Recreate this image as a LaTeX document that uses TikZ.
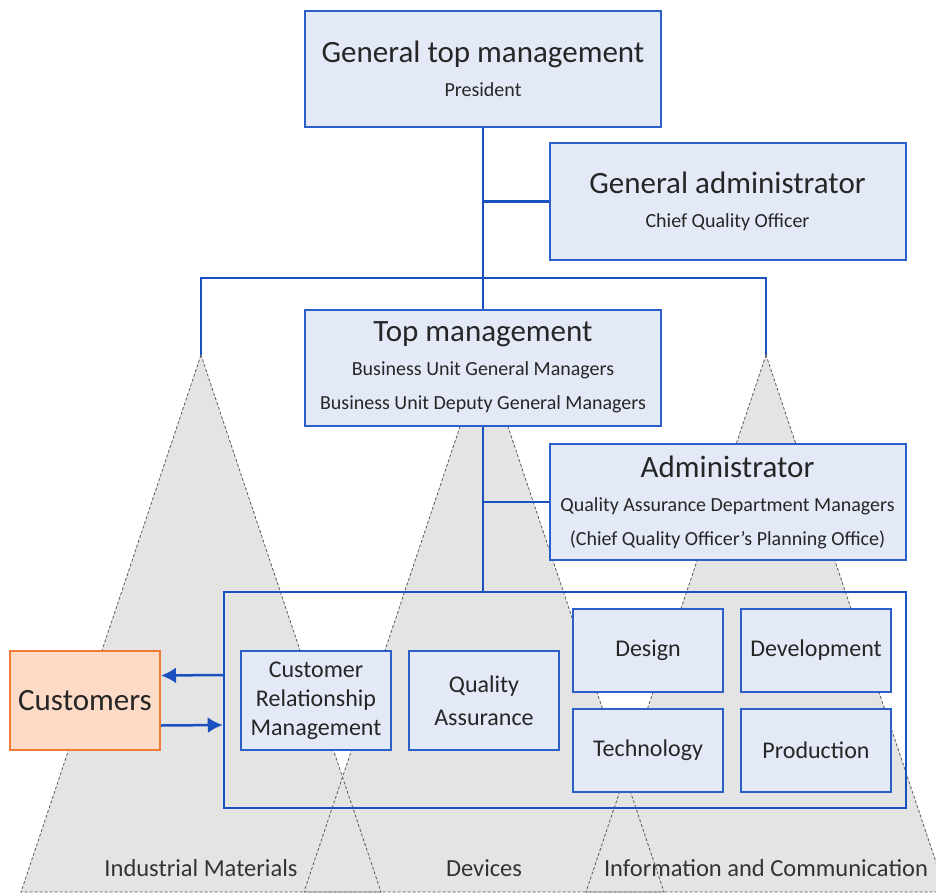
\documentclass[tikz,border=0pt]{standalone}
\usepackage{fontspec}
\setmainfont{Carlito}
\usetikzlibrary{arrows.meta,positioning,calc}
\definecolor{boxfill}{HTML}{E3E9F6}
\definecolor{boxline}{HTML}{2A60C8}
\definecolor{wire}{HTML}{1A50C0}
\definecolor{custfill}{HTML}{FDDBC7}
\definecolor{custline}{HTML}{F07A36}
\definecolor{pyrfill}{HTML}{E4E4E4}
\newcommand{\bigtxt}{\fontsize{31}{36}\selectfont}
\newcommand{\midtxt}{\fontsize{20}{34}\selectfont}
\newcommand{\unittxt}{\fontsize{24}{29}\selectfont}
\tikzset{
    block/.style = {draw=boxline, fill=boxfill, line width=2pt, rectangle,
        minimum width=356pt, minimum height=116pt, align=center, font=\midtxt, text=black!85},
    unit/.style = {draw=boxline, fill=boxfill, line width=2pt, rectangle,
        minimum width=150pt, minimum height=83pt, align=center, font=\unittxt, text=black!85},
    tall/.style = {minimum height=99pt},
    cust/.style = {draw=custline, fill=custfill, line width=2pt, rectangle,
        minimum width=150pt, minimum height=99pt, font=\fontsize{31}{36}\selectfont, text=black!85},
    frame/.style = {draw=wire, line width=2.5pt, rectangle,
        minimum width=682pt, minimum height=216pt},
    wire/.style = {draw=wire, line width=2.5pt},
    arrow/.style = {wire, -{Latex[length=15pt,width=16pt]}},
    pyramid/.style = {draw=black!65, dash pattern=on 3pt off 2pt, line width=0.8pt},
    pyrlabel/.style = {font=\fontsize{24.5}{28}\selectfont, text=black!80}
}
\begin{document}
\begin{tikzpicture}[x=1pt,y=-1pt]
    \useasboundingbox (0,0) rectangle (936,893);
    \begin{scope}
    \clip (0,0) rectangle (936,893);
    \coordinate (apexIM) at (201,355);
    \coordinate (apexDV) at (484,355);
    \coordinate (apexIC) at (766,355);
    \foreach \c in {apexIM,apexDV,apexIC}
        \fill [pyrfill] (\c) -- ++(-180,537) -- ++(360,0) -- cycle;
    \foreach \c in {apexIM,apexDV,apexIC}
        \draw [pyramid] (\c) -- ++(-180,537) -- ++(360,0) -- cycle;
    \end{scope}
    \node [pyrlabel] (im) at (201,868) {Industrial Materials};
    \node [pyrlabel] (dv) at (484,868) {Devices};
    \node [pyrlabel] (ic) at (766,868) {Information and Communication};

    \node [block] (gtm) at (483,69) {{\bigtxt General top management}\\ President};
    \node [block] (gadm) at (727.5,201.5) {{\bigtxt General administrator}\\ Chief Quality Officer};
    \node [block] (tm) at (483,367.5) {{\bigtxt Top management}\\ Business Unit General Managers\\ Business Unit Deputy General Managers};
    \node [block] (adm) at (727.5,502) {{\bigtxt Administrator}\\ Quality Assurance Department Managers\\ (Chief Quality Officer's Planning Office)};

    \node [frame] (units) at (565,700) {};
    \node [unit, tall] (crm) at (316,700.5) {Customer\\ Relationship\\ Management};
    \node [unit, tall, right=16pt of crm] (qa) {Quality\\[4pt] Assurance};
    \node [unit] (design) at (648,650.5) {Design};
    \node [unit, right=16pt of design] (dev) {Development};
    \node [unit] (tech) at (648,750.5) {Technology};
    \node [unit, right=16pt of tech] (prod) {Production};
    \node [cust] (cust) at (85,700.5) {Customers};

    \coordinate (barIM) at (201,278);
    \coordinate (barIC) at (766,278);
    \draw [wire] (gtm.south) -- (tm.north);
    \draw [wire] (gtm.south |- gadm.west) -- (gadm.west);
    \draw [wire] (apexIM) -- (barIM) -- (barIC) -- (apexIC);
    \draw [wire] (tm.south) -- (tm.south |- units.north);
    \draw [wire] (tm.south |- adm.west) -- (adm.west);
    \draw [arrow] ($(units.west)+(0,-25)$) -- ($(cust.east)+(0,-25)$);
    \draw [arrow] ($(cust.east)+(0,25)$) -- ($(units.west)+(0,25)$);
\end{tikzpicture}
\end{document}
